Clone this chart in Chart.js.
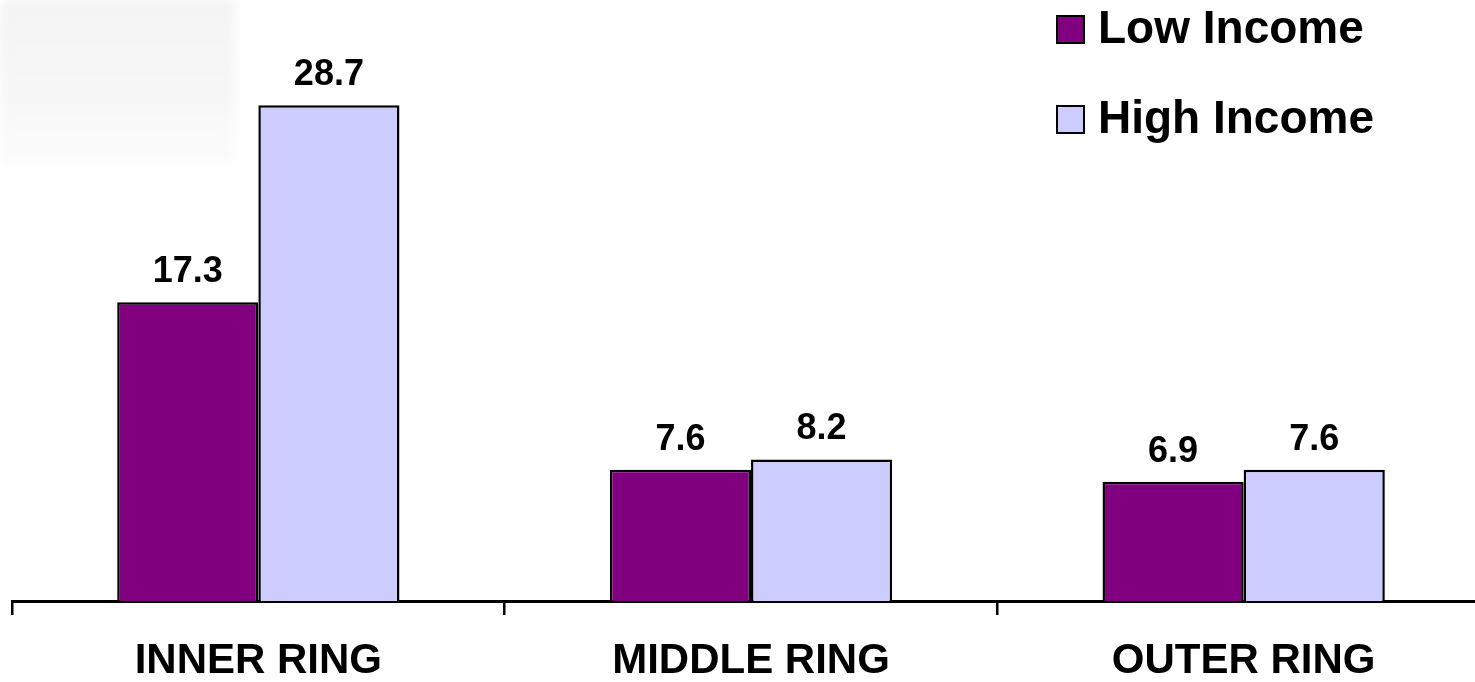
<!DOCTYPE html>
<html>
<head>
<meta charset="utf-8">
<title>Income by Ring</title>
<script src="https://cdn.jsdelivr.net/npm/chart.js@4/dist/chart.umd.min.js"></script>
<style>
  html, body { margin: 0; padding: 0; background: #ffffff; overflow: hidden; }
  #wrap { position: relative; width: 1490px; height: 682px; }
  #haze {
    position: absolute; left: 0; top: 0; width: 235px; height: 165px;
    background: linear-gradient(180deg, #f4f4f4 0%, #f7f7f7 60%, #fcfcfc 100%);
    filter: blur(5px);
  }
  #chart { position: absolute; left: 0; top: 0; }
</style>
</head>
<body>
<div id="wrap">
  <div id="haze"></div>
  <canvas id="chart" width="1490" height="682"></canvas>
</div>
<script>
const categories = ['INNER RING', 'MIDDLE RING', 'OUTER RING'];
const lowIncome = [17.3, 7.6, 6.9];
const highIncome = [28.7, 8.2, 7.6];
const seriesNames = ['Low Income', 'High Income'];
const seriesColors = ['#800080', '#CCCCFF'];

const FONT = '"Liberation Sans", Arial, Helvetica, sans-serif';

// Value labels above bars, category names under the axis, and the legend.
const annotate = {
  id: 'annotate',
  afterDatasetsDraw(chart) {
    const ctx = chart.ctx;
    ctx.save();
    ctx.fillStyle = '#000000';

    // values
    ctx.font = 'bold 36px ' + FONT;
    ctx.textAlign = 'center';
    ctx.textBaseline = 'alphabetic';
    chart.data.datasets.forEach((ds, di) => {
      const meta = chart.getDatasetMeta(di);
      meta.data.forEach((bar, i) => {
        ctx.fillText(ds.data[i].toFixed(1), bar.x, bar.y - 20);
      });
    });

    // category names
    const xs = chart.scales.x;
    ctx.font = 'bold 42px ' + FONT;
    chart.data.labels.forEach((lab, i) => {
      ctx.fillText(lab, xs.getPixelForValue(i), 673);
    });

    // legend
    ctx.textAlign = 'left';
    ctx.font = 'bold 46px ' + FONT;
    const rows = [{ box: 16, base: 43 }, { box: 106, base: 133 }];
    chart.data.datasets.forEach((ds, di) => {
      const r = rows[di];
      ctx.fillStyle = ds.backgroundColor;
      ctx.fillRect(1057, r.box, 27, 27);
      ctx.lineWidth = 2;
      ctx.strokeStyle = '#000000';
      ctx.strokeRect(1057, r.box, 27, 27);
      ctx.fillStyle = '#000000';
      ctx.fillText(ds.label, 1098, r.base);
    });
    ctx.restore();
  }
};

new Chart(document.getElementById('chart'), {
  type: 'bar',
  data: {
    labels: categories,
    datasets: [
      { label: seriesNames[0], data: lowIncome, backgroundColor: seriesColors[0],
        borderColor: '#000000', borderWidth: 2.5 },
      { label: seriesNames[1], data: highIncome, backgroundColor: seriesColors[1],
        borderColor: '#000000', borderWidth: 2.5 }
    ]
  },
  options: {
    responsive: false,
    animation: false,
    devicePixelRatio: 1,
    layout: { padding: { left: 12, right: 0, top: 0, bottom: 67 } },
    datasets: { bar: { categoryPercentage: 0.573, barPercentage: 1.0 } },
    plugins: { legend: { display: false }, tooltip: { enabled: false } },
    scales: {
      x: {
        grid: { display: true, drawOnChartArea: false, drawTicks: true,
                tickLength: 14, lineWidth: 2.5, color: '#000000', offset: true },
        border: { display: true, color: '#000000', width: 3 },
        ticks: { display: false }
      },
      y: {
        display: false,
        min: 0,
        max: 34.8
      }
    }
  },
  plugins: [annotate]
});
</script>
</body>
</html>
